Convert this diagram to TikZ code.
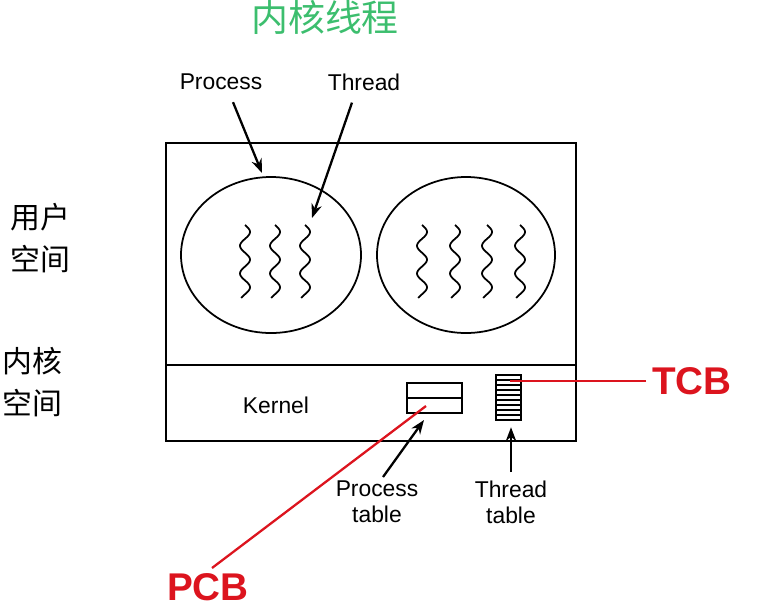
\documentclass[tikz,border=0pt]{standalone}
\usepackage{fontspec}
\setmainfont{Liberation Sans}
\newfontfamily\cjk{Noto Sans CJK SC}
\usetikzlibrary{arrows.meta}
\definecolor{titlegreen}{RGB}{60,190,110}
\definecolor{pcbred}{RGB}{220,20,30}
\tikzset{
  label/.style={font=\fontsize{13}{15}\selectfont,align=center},
  cjklabel/.style={font=\cjk\fontsize{17}{24}\selectfont,align=center},
  redtag/.style={text=pcbred,font=\bfseries\fontsize{22}{24}\selectfont},
  pointer/.style={-{Stealth[length=8pt,width=6pt]},line width=1.3pt},
  redline/.style={draw=pcbred,line width=1.3pt},
  wave/.style={line width=1pt}
}
\begin{document}
\begin{tikzpicture}[x=0.02cm,y=-0.02cm]
\useasboundingbox (0,0) rectangle (783,613);
\node[text=titlegreen,font=\cjk\fontsize{21}{24}\selectfont] (title) at (325,17) {内核线程};
\draw[line width=1pt] (166,143) rectangle (576,441);
\draw[line width=1pt] (166,365) -- (576,365);
\draw[line width=1pt] (271,255) ellipse [x radius=90,y radius=78];
\draw[line width=1pt] (466,255) ellipse [x radius=89,y radius=78];
\foreach \xs in {245,275,305,422,455,487,520}
  \draw[wave,domain=225:298,samples=60,variable=\t] plot ({\xs+5*sin(13*(\t-225))},\t);
\node[label] (proc) at (221,82) {Process};
\node[label] (thr) at (364,82) {Thread};
\coordinate (procend) at (262,173);
\coordinate (thrend) at (312,218);
\draw[pointer] (proc.south) ++(12,6) -- (procend);
\draw[pointer] (thr.south) ++(-12,6) -- (thrend);
\node[cjklabel] (user) at (40,238) {用户\\空间};
\node[cjklabel] (kspace) at (32,382) {内核\\空间};
\node[label] (kernel) at (276,405) {Kernel};
\draw[line width=1.2pt] (407,383) rectangle (462,413);
\draw[line width=1.2pt] (407,398) -- (462,398);
\coordinate (ptab) at (434,413);
\draw[line width=1.2pt] (496,375) rectangle (521,420);
\foreach \yy in {380,385,...,415}
  \draw[line width=0.8pt] (496,\yy) -- (521,\yy);
\coordinate (ttab) at (508,420);
\node[label] (ptl) at (377,502) {Process\\table};
\node[label] (ttl) at (511,502) {Thread\\table};
\draw[pointer] (383,477) -- (424,420);
\draw[pointer] (ttl.north) ++(0,-2) -- ++(0,-45);
\node[redtag] (tcb) at (692,381) {TCB};
\node[redtag] (pcb) at (208,587) {PCB};
\draw[redline] (tcb.west) -- (510,381);
\draw[redline] (212,568) -- (426,406);
\end{tikzpicture}
\end{document}
